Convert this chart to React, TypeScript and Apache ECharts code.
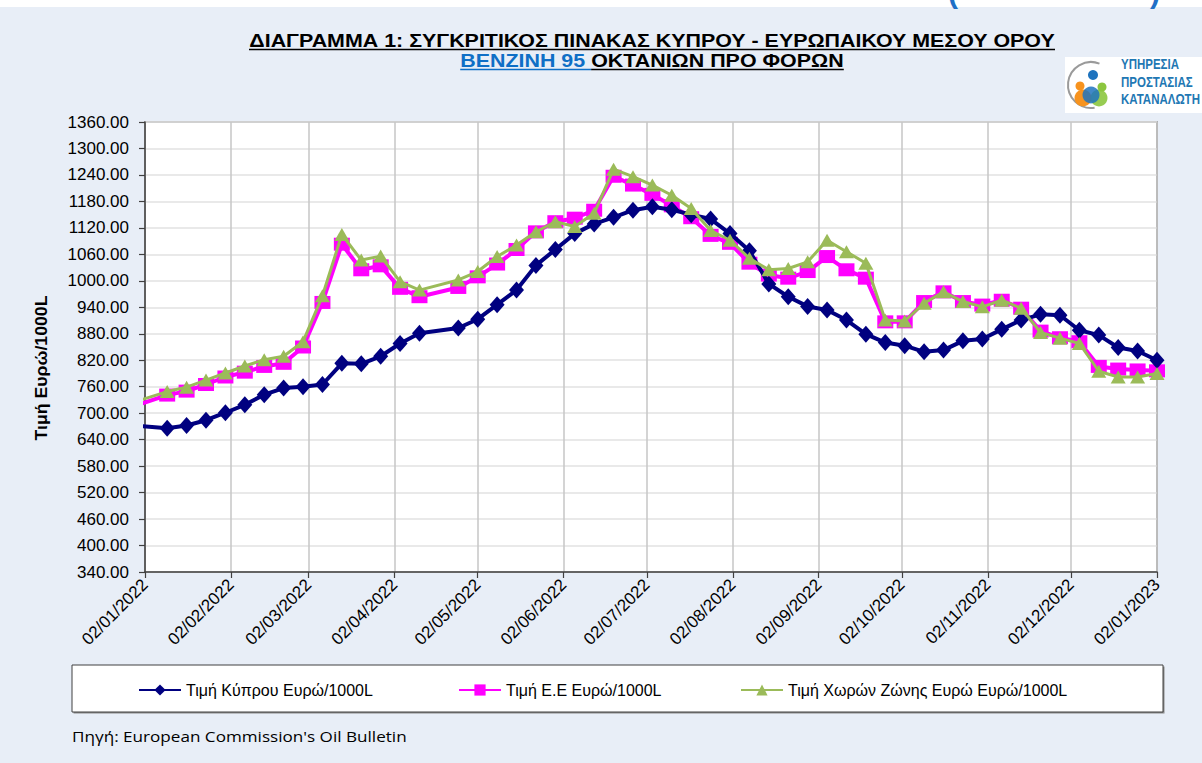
import React, { useEffect, useRef } from 'react';
import * as echarts from 'echarts';

// ---------- data ----------
const dates = [
  '27/12/2021',
  '10/01/2022', '17/01/2022', '24/01/2022', '31/01/2022',
  '07/02/2022', '14/02/2022', '21/02/2022', '28/02/2022',
  '07/03/2022', '14/03/2022', '21/03/2022', '28/03/2022',
  '04/04/2022', '11/04/2022', '25/04/2022',
  '02/05/2022', '09/05/2022', '16/05/2022', '23/05/2022', '30/05/2022',
  '06/06/2022', '13/06/2022', '20/06/2022', '27/06/2022',
  '04/07/2022', '11/07/2022', '18/07/2022', '25/07/2022',
  '01/08/2022', '08/08/2022', '15/08/2022', '22/08/2022', '29/08/2022',
  '05/09/2022', '12/09/2022', '19/09/2022', '26/09/2022',
  '03/10/2022', '10/10/2022', '17/10/2022', '24/10/2022', '31/10/2022',
  '07/11/2022', '14/11/2022', '21/11/2022', '28/11/2022',
  '05/12/2022', '12/12/2022', '19/12/2022', '26/12/2022',
  '02/01/2023',
];

const cyprus = [
  673,
  666, 672, 684, 701,
  719, 742, 757, 760,
  765, 813, 812, 829,
  858, 881, 893,
  913, 946, 979, 1035, 1071,
  1107, 1129, 1144, 1160,
  1168, 1161, 1150, 1140,
  1107, 1068, 993, 964, 942,
  934, 911, 879, 860,
  853, 839, 843, 864, 868,
  890, 911, 924, 922,
  888, 877, 849, 841,
  820,
];

const eu = [
  712,
  741, 750, 765, 782,
  793, 806, 813, 850,
  951, 1083, 1025, 1034,
  983, 964, 985,
  1009, 1038, 1071, 1111, 1134,
  1142, 1160, 1237, 1217,
  1196, 1170, 1143, 1103,
  1085, 1040, 1013, 1006, 1021,
  1055, 1025, 1006, 907,
  907, 953, 975, 953, 945,
  956, 938, 886, 871,
  862, 806, 800, 798,
  796,
];

const euroArea = [
  721,
  749, 759, 775, 791,
  807, 821, 829, 862,
  966, 1105, 1047, 1056,
  998, 979, 1002,
  1021, 1055, 1081, 1111, 1134,
  1123, 1153, 1253, 1236,
  1217, 1194, 1164, 1114,
  1092, 1051, 1025, 1028, 1043,
  1092, 1066, 1040, 911,
  909, 949, 975, 953, 941,
  956, 938, 883, 870,
  858, 795, 782, 782,
  790,
];

const xTickLabels = [
  '02/01/2022', '02/02/2022', '02/03/2022', '02/04/2022', '02/05/2022', '02/06/2022', '02/07/2022',
  '02/08/2022', '02/09/2022', '02/10/2022', '02/11/2022', '02/12/2022', '02/01/2023',
];

const seriesNames = [
  'Τιμή Κύπρου Ευρώ/1000L',
  'Τιμή Ε.Ε Ευρώ/1000L',
  'Τιμή Χωρών Ζώνης Ευρώ Ευρώ/1000L',
];

const yMin = 340;
const yMax = 1360;
const yStep = 60;

const title1 = 'ΔΙΑΓΡΑΜΜΑ 1: ΣΥΓΚΡΙΤΙΚΟΣ ΠΙΝΑΚΑΣ ΚΥΠΡΟΥ - ΕΥΡΩΠΑΙΚΟΥ ΜΕΣΟΥ ΟΡΟΥ';
const title2a = 'ΒΕΝΖΙΝΗ 95 ';
const title2b = 'ΟΚΤΑΝΙΩΝ ΠΡΟ ΦΟΡΩΝ';
const yName = 'Τιμή Ευρώ/1000L';
const source = "Πηγή: European Commission's Oil Bulletin";
const logoLines = ['ΥΠΗΡΕΣΙΑ', 'ΠΡΟΣΤΑΣΙΑΣ', 'ΚΑΤΑΝΑΛΩΤΗ'];

// ---------- helpers ----------
const ARIAL = '"Liberation Sans", Arial, sans-serif';
const SOURCE_FONT = '"Open Sans", "Noto Sans", sans-serif';

const toTime = (s: string) => {
  const [d, m, y] = s.split('/').map(Number);
  return new Date(y, m - 1, d).getTime();
};
const pad = (n: number) => (n < 10 ? '0' + n : '' + n);
const fmtDate = (v: number) => {
  const d = new Date(v);
  return `${pad(d.getDate())}/${pad(d.getMonth() + 1)}/${d.getFullYear()}`;
};

let measureCtx: CanvasRenderingContext2D | null = null;
const measure = (text: string, font: string) => {
  if (!measureCtx) measureCtx = document.createElement('canvas').getContext('2d');
  if (!measureCtx) return text.length * 8;
  measureCtx.font = font;
  return measureCtx.measureText(text).width || text.length * 8;
};

function buildOption() {
  const tickVals = xTickLabels.map(toTime);

  // Title sizing (condensed bold look: tall font squeezed horizontally)
  const tFont = `bold 19px ${ARIAL}`;
  const w1 = measure(title1, tFont);
  const s = 806 / w1;
  const wa = measure(title2a, tFont) * s;
  const wb = measure(title2b, tFont) * s;
  const cx = 652;
  const l2start = cx - (wa + wb) / 2;

  const logoFont = `bold 15px ${ARIAL}`;
  const logoScale = 79 / measure(logoLines[2], logoFont);

  const srcFont = `15px ${SOURCE_FONT}`;
  const srcScale = 335 / measure(source, srcFont);

  const yNameFont = `bold 16px ${ARIAL}`;
  const yNameScale = 145 / measure(yName, yNameFont);

  const mkSeries = (name: string, vals: number[], symbol: string, size: number[], color: string, width: number, z: number) => ({
    name,
    type: 'line',
    data: dates.map((d, i) => [toTime(d), vals[i]]),
    symbol,
    symbolSize: size,
    showAllSymbol: true,
    clip: true,
    z,
    itemStyle: { color, borderWidth: 0 },
    lineStyle: { color, width },
    emphasis: { disabled: true },
  });

  const legendCommon = {
    top: 682,
    padding: 0,
    itemWidth: 42,
    itemHeight: 14,
    itemGap: 0,
    selectedMode: false,
    textStyle: { fontFamily: ARIAL, fontSize: 16, color: '#000' },
  };

  const graphic: any[] = [
    { type: 'rect', shape: { x: 0, y: 0, width: 1202, height: 7 }, style: { fill: '#ffffff' }, z: 0 },
    { type: 'text', x: 948, y: 7, style: { text: '(', fill: '#1F6FC6', fontSize: 30, fontWeight: 'bold', fontFamily: ARIAL, align: 'left', verticalAlign: 'bottom' }, z: 1 },
    { type: 'text', x: 1150, y: 7, style: { text: ')', fill: '#1F6FC6', fontSize: 30, fontWeight: 'bold', fontFamily: ARIAL, align: 'left', verticalAlign: 'bottom' }, z: 1 },
    // titles
    { type: 'text', x: cx, y: 40, scaleX: s, style: { text: title1, fill: '#000', font: tFont, align: 'center', verticalAlign: 'middle' } },
    { type: 'line', shape: { x1: cx - 403, y1: 49.5, x2: cx + 403, y2: 49.5 }, style: { stroke: '#000', lineWidth: 1.5 } },
    { type: 'text', x: l2start, y: 60, scaleX: s, style: { text: title2a, fill: '#0F6FC6', font: tFont, align: 'left', verticalAlign: 'middle' } },
    { type: 'text', x: l2start + wa, y: 60, scaleX: s, style: { text: title2b, fill: '#000', font: tFont, align: 'left', verticalAlign: 'middle' } },
    { type: 'line', shape: { x1: l2start, y1: 69.5, x2: l2start + wa, y2: 69.5 }, style: { stroke: '#0F6FC6', lineWidth: 1.5 } },
    { type: 'line', shape: { x1: l2start + wa, y1: 69.5, x2: l2start + wa + wb, y2: 69.5 }, style: { stroke: '#000', lineWidth: 1.5 } },
    // logo
    { type: 'rect', shape: { x: 1065, y: 57, width: 140, height: 56 }, style: { fill: '#ffffff' } },
    { type: 'arc', shape: { cx: 1091, cy: 85, r: 23, startAngle: Math.PI * 0.45, endAngle: Math.PI * 1.62, clockwise: true }, style: { stroke: '#9a9a9a', lineWidth: 2, fill: 'none' } },
    { type: 'circle', shape: { cx: 1083, cy: 98, r: 8.5 }, style: { fill: '#F7931E' } },
    { type: 'circle', shape: { cx: 1099, cy: 98, r: 8.5 }, style: { fill: '#8CC63F', opacity: 0.9 } },
    { type: 'circle', shape: { cx: 1091, cy: 95, r: 8.5 }, style: { fill: '#1E73BE', opacity: 0.85 } },
    { type: 'circle', shape: { cx: 1093, cy: 75, r: 5 }, style: { fill: '#1E73BE' } },
    { type: 'circle', shape: { cx: 1080, cy: 86, r: 4.5 }, style: { fill: '#F7931E' } },
    { type: 'circle', shape: { cx: 1102, cy: 87, r: 4.5 }, style: { fill: '#8CC63F' } },
    ...logoLines.map((t, i) => ({
      type: 'text', x: 1121, y: 64 + i * 17.5, scaleX: logoScale,
      style: { text: t, fill: '#1F78B4', font: logoFont, align: 'left', verticalAlign: 'middle' },
    })),
    // y axis name
    { type: 'text', x: 42, y: 368, rotation: Math.PI / 2, scaleX: yNameScale, style: { text: yName, fill: '#000', font: yNameFont, align: 'center', verticalAlign: 'middle' } },
    // legend box
    { type: 'rect', shape: { x: 73.5, y: 666.5, width: 1091, height: 47 }, style: { fill: '#8a8a8a' }, z: -2 },
    { type: 'rect', shape: { x: 72, y: 665, width: 1091, height: 47 }, style: { fill: '#ffffff', stroke: '#404040', lineWidth: 1 }, z: -1 },
    // source
    { type: 'text', x: 72, y: 736, scaleX: srcScale, style: { text: source, fill: '#000', font: srcFont, align: 'left', verticalAlign: 'middle' } },
  ];

  return {
    animation: false,
    backgroundColor: '#E8EEF7',
    grid: {
      left: 145, right: 45, top: 122, bottom: 191,
      show: true, backgroundColor: '#ffffff', borderColor: '#808080', borderWidth: 1.5,
    },
    xAxis: {
      type: 'value',
      min: tickVals[0],
      max: tickVals[tickVals.length - 1],
      axisLine: { show: true, lineStyle: { color: '#404040', width: 1.5 } },
      axisTick: { show: true, customValues: tickVals, length: 6, lineStyle: { color: '#404040', width: 1.2 } },
      axisLabel: {
        customValues: tickVals,
        rotate: 45,
        formatter: (v: number) => fmtDate(v),
        fontFamily: ARIAL, fontSize: 17, color: '#000', margin: 10,
        showMinLabel: true, showMaxLabel: true, hideOverlap: false,
      },
      splitLine: { show: true, lineStyle: { color: '#c6c6c6', width: 1.5 } },
    },
    yAxis: {
      type: 'value',
      min: yMin, max: yMax, interval: yStep,
      axisLine: { show: true, lineStyle: { color: '#404040', width: 1.5 } },
      axisTick: { show: true, length: 6, lineStyle: { color: '#404040', width: 1.2 } },
      axisLabel: { formatter: (v: number) => v.toFixed(2), fontFamily: ARIAL, fontSize: 17, color: '#000', margin: 16 },
      splitLine: { show: true, lineStyle: { color: '#e2e2e2', width: 1.5 } },
    },
    legend: [
      { ...legendCommon, left: 138, data: [seriesNames[0]] },
      { ...legendCommon, left: 458, data: [seriesNames[1]] },
      { ...legendCommon, left: 740, data: [seriesNames[2]] },
    ],
    graphic,
    series: [
      mkSeries(seriesNames[1], eu, 'rect', [16, 13], '#FF00FF', 4, 2),
      mkSeries(seriesNames[0], cyprus, 'diamond', [15, 17], '#000080', 4, 3),
      mkSeries(seriesNames[2], euroArea, 'triangle', [15, 13], '#9BBB59', 3, 4),
    ],
  };
}

export default function App() {
  const ref = useRef<HTMLDivElement>(null);
  useEffect(() => {
    if (!ref.current) return;
    const chart = echarts.init(ref.current, null, { renderer: 'svg', width: 1202, height: 763 });
    chart.setOption(buildOption() as any);
    return () => chart.dispose();
  }, []);
  return <div ref={ref} style={{ position: 'fixed', left: 0, top: 0, width: 1202, height: 763 }} />;
}
